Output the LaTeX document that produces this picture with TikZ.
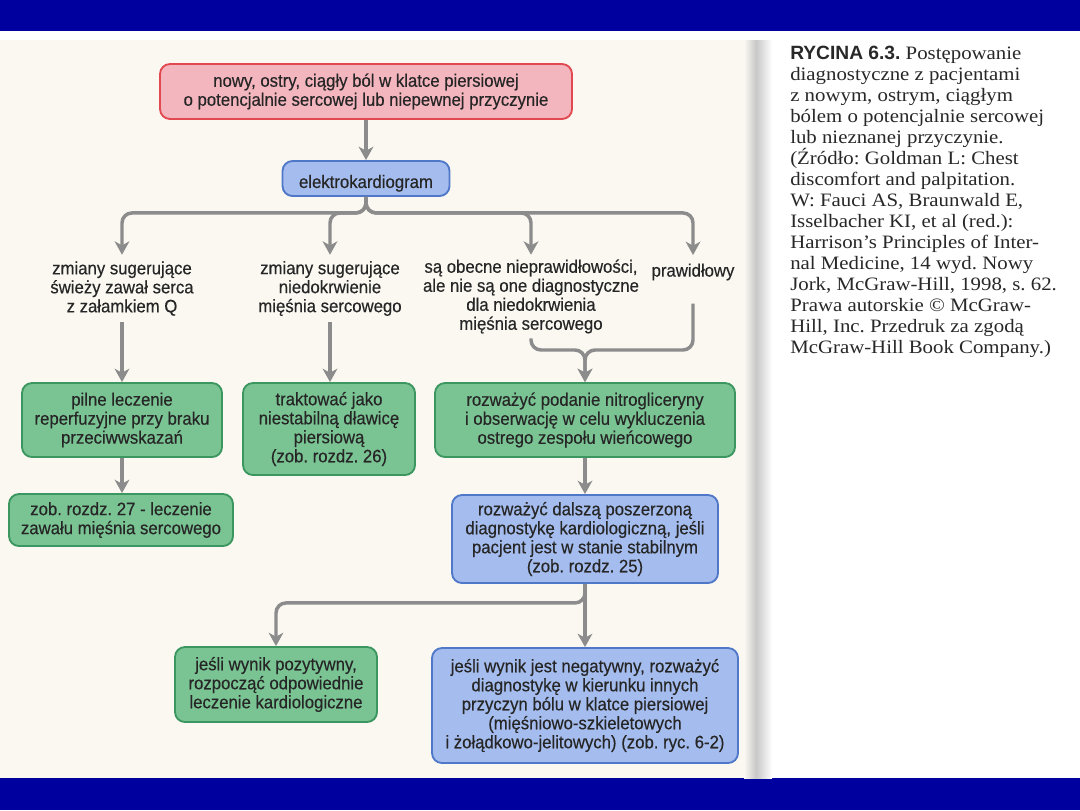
\documentclass[tikz,border=0pt]{standalone}
\usepackage{fontspec}
\setmainfont[FakeStretch=0.93,FakeBold=0.4]{Liberation Sans}
\newfontfamily\capserif[FakeStretch=1.1]{Liberation Serif}
\newfontfamily\capsans{Liberation Sans}
\usetikzlibrary{arrows.meta}
\frenchspacing
\definecolor{barblue}{RGB}{0,0,158}
\definecolor{cream}{RGB}{251,248,242}
\definecolor{shadow}{RGB}{200,200,200}
\definecolor{redfill}{RGB}{244,182,190}
\definecolor{redline}{RGB}{226,72,80}
\definecolor{bluefill}{RGB}{165,189,238}
\definecolor{blueline}{RGB}{80,120,200}
\definecolor{greenfill}{RGB}{122,196,148}
\definecolor{greenline}{RGB}{60,150,95}
\definecolor{linegray}{RGB}{140,140,140}
\definecolor{txt}{RGB}{38,38,38}
\definecolor{captxt}{RGB}{40,40,40}
\newcommand\boxfont{\fontsize{13.5pt}{14.25pt}\selectfont}
\newcommand\capfont{\capserif\fontsize{14.2pt}{15.75pt}\selectfont}
\tikzset{
  box/.style={draw, rounded corners=7.5pt, line width=1.4pt, align=center, font=\boxfont, text=txt, inner sep=0pt,
    execute at begin node={\rule{0pt}{17pt}}, execute at end node={\rule[-1pt]{0pt}{1pt}}},
  redbox/.style={box, fill=redfill, draw=redline},
  bluebox/.style={box, fill=bluefill, draw=blueline},
  greenbox/.style={box, fill=greenfill, draw=greenline},
  lbl/.style={align=center, font=\boxfont, text=txt, inner sep=0pt,
    execute at begin node={\rule{0pt}{17pt}}, execute at end node={\rule[-1pt]{0pt}{1pt}}},
  conn/.style={draw=linegray, line width=2.6pt, rounded corners=7.5pt},
  arr/.style={conn, -{Stealth[length=10pt,width=11pt,inset=3pt]}}
}
\begin{document}
\begin{tikzpicture}[x=0.75pt,y=-0.75pt]
\useasboundingbox (0,0) rectangle (1080,810);
\fill[white] (0,0) rectangle (1080,810);
\fill[barblue] (0,0) rectangle (1080,31);
\fill[barblue] (0,778) rectangle (1080,810);
\fill[cream] (0,40) rectangle (750,778);
\shade[left color=cream, right color=shadow] (744,40) rectangle (756,778);
\shade[left color=shadow, right color=white] (756,40) rectangle (772,778);

% boxes
\node[redbox, minimum width=309pt, minimum height=41.25pt] (start) at (366,91.5)
  {nowy, ostry, ciągły ból w klatce piersiowej\\o potencjalnie sercowej lub niepewnej przyczynie};
\node[bluebox, minimum width=125.25pt, minimum height=26.25pt,
  execute at begin node={\rule{0pt}{12.5pt}}] (ekg) at (366,178.5) {elektrokardiogram};

\node[lbl, minimum height=50.25pt] (t1) at (122,288.5) {zmiany sugerujące\\świeży zawał serca\\z załamkiem Q};
\node[lbl, minimum height=50.25pt] (t2) at (330,288.5) {zmiany sugerujące\\niedokrwienie\\mięśnia sercowego};
\node[lbl, minimum height=62.25pt] (t3) at (531,296.5) {są obecne nieprawidłowości,\\ale nie są one diagnostyczne\\dla niedokrwienia\\mięśnia sercowego};
\node[lbl, anchor=north, text height=16pt, text depth=20pt] (t4) at (693,255) {prawidłowy};

\node[greenbox, minimum width=150pt, minimum height=55.5pt] (g1) at (122,420)
  {pilne leczenie\\reperfuzyjne przy braku\\przeciwwskazań};
\node[greenbox, minimum width=129pt, minimum height=69pt] (g2) at (329,429)
  {traktować jako\\niestabilną dławicę\\piersiową\\(zob. rozdz. 26)};
\node[greenbox, minimum width=225pt, minimum height=55.5pt] (g3) at (585,420)
  {rozważyć podanie nitrogliceryny\\i obserwację w celu wykluczenia\\ostrego zespołu wieńcowego};
\node[greenbox, minimum width=168pt, minimum height=39pt] (g4) at (121,520)
  {zob. rozdz. 27 - leczenie\\zawału mięśnia sercowego};
\node[bluebox, minimum width=199.5pt, minimum height=66pt] (b4) at (585,539)
  {rozważyć dalszą poszerzoną\\diagnostykę kardiologiczną, jeśli\\pacjent jest w stanie stabilnym\\(zob. rozdz. 25)};
\node[greenbox, minimum width=151.5pt, minimum height=56.25pt] (g5) at (276,684.5)
  {jeśli wynik pozytywny,\\rozpocząć odpowiednie\\leczenie kardiologiczne};
\node[bluebox, minimum width=229.5pt, minimum height=86.25pt] (b6) at (585,705.5)
  {jeśli wynik jest negatywny, rozważyć\\diagnostykę w kierunku innych\\przyczyn bólu w klatce piersiowej\\(mięśniowo-szkieletowych\\i żołądkowo-jelitowych) (zob. ryc. 6-2)};

\coordinate (m1) at (585,350);

% connectors
\draw[arr] (start.south) -- (ekg.north);
\draw[arr] (ekg.south) -- ++(0,16) -| (t1.north);
\draw[arr] (ekg.south) -- ++(0,16) -| (t2.north);
\draw[arr] (ekg.south) -- ++(0,16) -| (t3.north);
\draw[arr] (ekg.south) -- ++(0,16) -| (t4.north);
\draw[arr] (t1.south) -- (t1.south |- g1.north);
\draw[arr] (t2.south) -- (t2.south |- g2.north);
\draw[arr] (g1.south) -- (g1.south |- g4.north);
\draw[arr] (t3.south) |- (m1) -- (g3.north);
\draw[arr] (t4.south) |- (m1) -- (g3.north);
\draw[arr] (g3.south) -- (b4.north);
\draw[arr] (b4.south) -- ++(0,19) -| (g5.north);
\draw[arr] (b4.south) -- (b6.north);

% caption
\node[anchor=north west, inner sep=0pt, align=left, text=captxt, font=\capfont] (cap) at (790,46)
  {{\capsans\bfseries\fontsize{14.4pt}{15.75pt}\selectfont RYCINA 6.3.} Postępowanie\\
   diagnostyczne z pacjentami\\
   z nowym, ostrym, ciągłym\\
   bólem o potencjalnie sercowej\\
   lub nieznanej przyczynie.\\
   (Źródło: Goldman L: Chest\\
   discomfort and palpitation.\\
   W: Fauci AS, Braunwald E,\\
   Isselbacher KI, et al (red.):\\
   Harrison’s Principles of Inter-\\
   nal Medicine, 14 wyd. Nowy\\
   Jork, McGraw-Hill, 1998, s. 62.\\
   Prawa autorskie © McGraw-\\
   Hill, Inc. Przedruk za zgodą\\
   McGraw-Hill Book Company.)};
\end{tikzpicture}
\end{document}
